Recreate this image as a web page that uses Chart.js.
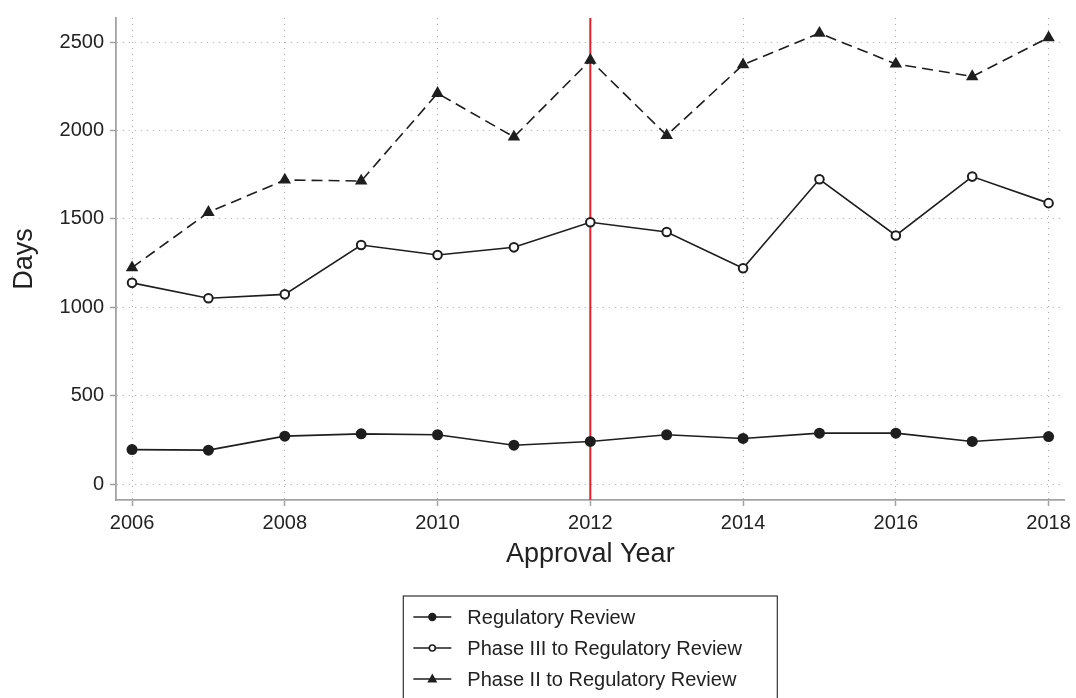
<!DOCTYPE html>
<html>
<head>
<meta charset="utf-8">
<script src="https://cdn.jsdelivr.net/npm/chart.js@4.4.0/dist/chart.umd.min.js"></script>
<style>
  html, body { margin: 0; padding: 0; background: #fff; }
  #wrap { width: 1076px; height: 698px; }
</style>
</head>
<body>
<div id="wrap"><canvas id="grafico" width="1076" height="698"></canvas></div>
<script>
// valores
const years = [2006, 2007, 2008, 2009, 2010, 2011, 2012, 2013, 2014, 2015, 2016, 2017, 2018];
const regulatoryReview = [195, 192, 271, 284, 279, 220, 241, 279, 258, 288, 288, 241, 269];
const phase3Review = [1138, 1051, 1073, 1352, 1296, 1339, 1481, 1426, 1221, 1724, 1406, 1739, 1589];
const phase2Review = [1224, 1537, 1720, 1714, 2210, 1963, 2397, 1972, 2372, 2550, 2376, 2305, 2525];
const xTicks = [2006, 2008, 2010, 2012, 2014, 2016, 2018];
const yTicks = [0, 500, 1000, 1500, 2000, 2500];
const markYear = 2012;

const fuente = "'Liberation Sans', Arial, Helvetica, sans-serif";
const negro = '#1e1e1e';
const gris = '#a3a3a3';
const puntos = '#a8a8a8';

function serie(vals) {
  return years.map((y, i) => ({ x: y, y: vals[i] }));
}

// linea roja vertical
const lineaRoja = {
  id: 'lineaRoja',
  beforeDatasetsDraw(chart) {
    const { ctx, chartArea, scales } = chart;
    const x = scales.x.getPixelForValue(markYear);
    ctx.save();
    ctx.strokeStyle = '#e3202a';
    ctx.lineWidth = 2;
    ctx.beginPath();
    ctx.moveTo(x, chartArea.top);
    ctx.lineTo(x, chartArea.bottom);
    ctx.stroke();
    ctx.restore();
  }
};

// leyenda con caja, una columna
const leyenda = {
  id: 'leyenda',
  afterDraw(chart) {
    const { ctx, chartArea } = chart;
    const cx = (chartArea.left + chartArea.right) / 2;
    const w = 374;
    const left = cx - w / 2;
    const top = chartArea.bottom + 96;
    ctx.save();
    ctx.strokeStyle = '#333';
    ctx.lineWidth = 1.2;
    ctx.strokeRect(left, top, w, 120);
    ctx.font = '20px ' + fuente;
    ctx.textBaseline = 'middle';
    ctx.textAlign = 'left';
    chart.data.datasets.forEach((ds, i) => {
      const y = top + 21 + i * 31;
      const mx = left + 29;
      ctx.strokeStyle = negro;
      ctx.lineWidth = 1.6;
      ctx.setLineDash([]);
      ctx.beginPath();
      ctx.moveTo(left + 10, y);
      ctx.lineTo(left + 48, y);
      ctx.stroke();
      ctx.fillStyle = negro;
      if (ds.pointStyle === 'triangle') {
        ctx.beginPath();
        ctx.moveTo(mx, y - 5.5);
        ctx.lineTo(mx + 5, y + 3.5);
        ctx.lineTo(mx - 5, y + 3.5);
        ctx.closePath();
        ctx.fill();
      } else {
        ctx.beginPath();
        ctx.arc(mx, y, ds.pointBackgroundColor === '#fff' ? 3 : 4.2, 0, Math.PI * 2);
        if (ds.pointBackgroundColor === '#fff') {
          ctx.fillStyle = '#fff';
          ctx.fill();
          ctx.lineWidth = 1.6;
          ctx.stroke();
        } else {
          ctx.fill();
        }
      }
      ctx.fillStyle = '#222';
      ctx.fillText(ds.label, left + 64, y + 1);
    });
    ctx.restore();
  }
};

const rejilla = { color: puntos, lineWidth: 1, tickLength: 6, tickColor: gris, tickWidth: 1.5, tickBorderDash: [], borderDash: [1, 5] };
const borde = { display: true, color: gris, width: 1.8, dash: [1, 5] };

new Chart(document.getElementById('grafico'), {
  type: 'line',
  data: {
    datasets: [{
      label: 'Regulatory Review',
      data: serie(regulatoryReview),
      borderColor: negro,
      borderWidth: 1.6,
      pointStyle: 'circle',
      pointRadius: 5.5,
      pointBackgroundColor: negro,
      pointBorderColor: negro,
      pointBorderWidth: 0,
      tension: 0
    }, {
      label: 'Phase III to Regulatory Review',
      data: serie(phase3Review),
      borderColor: negro,
      borderWidth: 1.6,
      pointStyle: 'circle',
      pointRadius: 4.3,
      pointBackgroundColor: '#fff',
      pointBorderColor: negro,
      pointBorderWidth: 2,
      tension: 0
    }, {
      label: 'Phase II to Regulatory Review',
      data: serie(phase2Review),
      borderColor: negro,
      borderWidth: 1.6,
      borderDash: [11, 6],
      pointStyle: 'triangle',
      pointRadius: 7.2,
      pointBackgroundColor: negro,
      pointBorderColor: negro,
      pointBorderWidth: 0,
      tension: 0
    }]
  },
  options: {
    responsive: false,
    animation: false,
    layout: { padding: { top: 14, right: 10, bottom: 123, left: 0 } },
    plugins: {
      legend: { display: false },
      tooltip: { enabled: false }
    },
    scales: {
      x: {
        type: 'linear',
        min: 2005.79,
        max: 2018.21,
        afterBuildTicks: s => { s.ticks = xTicks.map(v => ({ value: v })); },
        afterFit: s => { s.height = 75; },
        grid: rejilla,
        border: borde,
        ticks: { color: '#222', font: { family: fuente, size: 20 }, padding: 5, maxRotation: 0, callback: v => String(v) },
        title: { display: true, text: 'Approval Year', color: '#222', font: { family: fuente, size: 27 }, padding: { top: 0, bottom: 4 } }
      },
      y: {
        min: -90,
        max: 2636,
        afterBuildTicks: s => { s.ticks = yTicks.map(v => ({ value: v })); },
        afterFit: s => { s.width = 116; },
        grid: rejilla,
        border: borde,
        ticks: { color: '#222', font: { family: fuente, size: 20 }, padding: 6, callback: v => String(v) },
        title: { display: true, text: 'Days', color: '#222', font: { family: fuente, size: 27 }, padding: { top: 8, bottom: 0 } }
      }
    }
  },
  plugins: [lineaRoja, leyenda]
});
</script>
</body>
</html>
